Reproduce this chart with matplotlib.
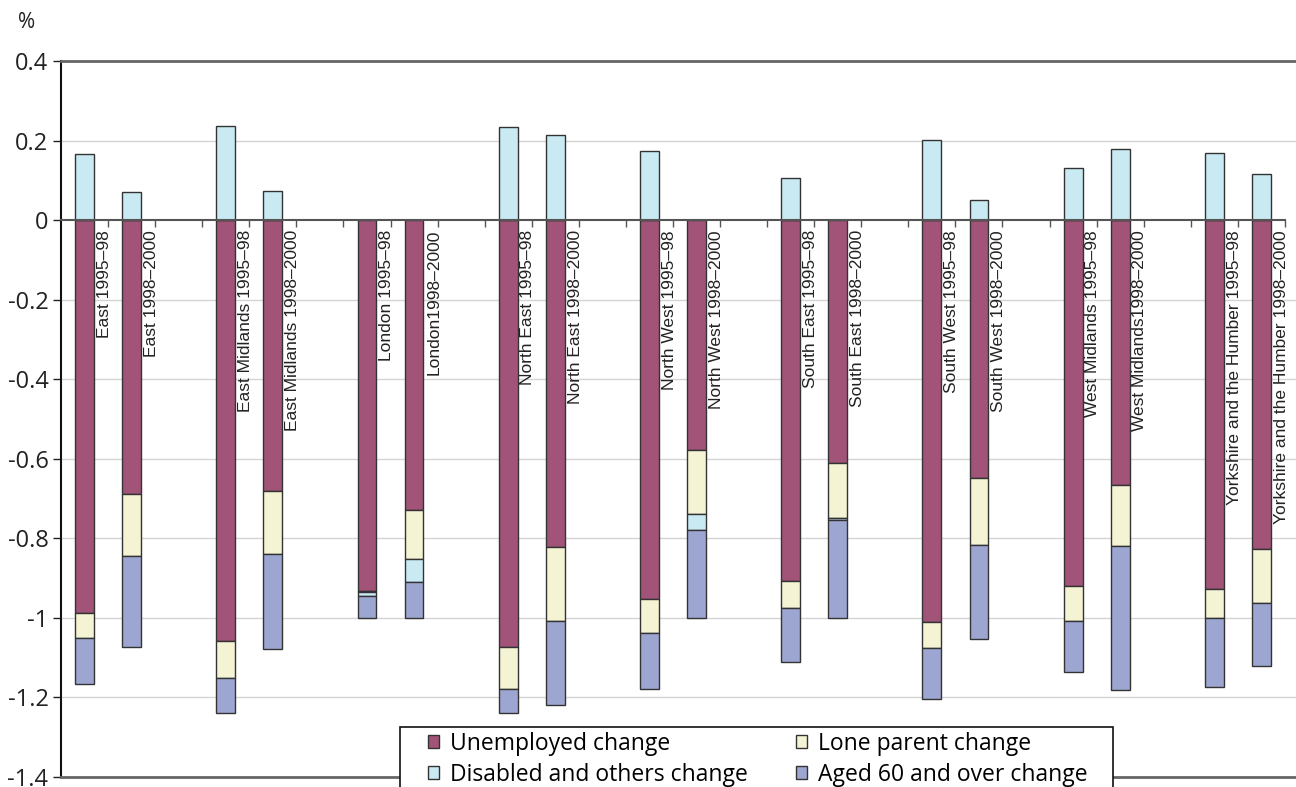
import numpy as np
import matplotlib
matplotlib.use("Agg")
from matplotlib import pyplot as plt
from matplotlib.patches import Patch, Rectangle

# regional change in claimant shares, two periods per region
labels = ["East 1995\u201398", "East 1998\u20132000",
          "East Midlands 1995\u201398", "East Midlands 1998\u20132000",
          "London 1995\u201398", "London1998\u20132000",
          "North East 1995\u201398", "North East 1998\u20132000",
          "North West 1995\u201398", "North West 1998\u20132000",
          "South East 1995\u201398", "South East 1998\u20132000",
          "South West 1995\u201398", "South West 1998\u20132000",
          "West Midlands 1995\u201398", "West Midlands1998\u20132000",
          "Yorkshire and the Humber 1995\u201398", "Yorkshire and the Humber 1998\u20132000"]

unemployed = [-0.987, -0.689, -1.058, -0.680, -0.932, -0.730, -1.073, -0.823, -0.953,
              -0.577, -0.907, -0.610, -1.011, -0.648, -0.920, -0.667, -0.928, -0.828]
lone_parent = [-0.063, -0.156, -0.092, -0.160, -0.004, -0.123, -0.106, -0.185, -0.085,
               -0.163, -0.067, -0.139, -0.064, -0.170, -0.088, -0.152, -0.073, -0.134]
disabled = [0.165, 0.070, 0.236, 0.074, -0.010, -0.056, 0.235, 0.215, 0.174,
            -0.038, 0.106, -0.006, 0.201, 0.050, 0.131, 0.179, 0.169, 0.117]
aged60 = [-0.117, -0.228, -0.089, -0.238, -0.054, -0.091, -0.060, -0.210, -0.141,
          -0.222, -0.137, -0.245, -0.130, -0.236, -0.127, -0.363, -0.172, -0.158]

c_unemp = "#a25478"
c_lone = "#f4f3d4"
c_dis = "#c9e9f3"
c_aged = "#9ca6d1"
edge = "#333333"

plt.rcParams['font.family'] = ['Open Sans', 'DejaVu Sans']

un = np.array(unemployed)
lp = np.array(lone_parent)
ds = np.array(disabled)
ag = np.array(aged60)

# two bars per region, then an empty slot
pos = np.array([3 * (i // 2) + (i % 2) for i in range(len(labels))])

W, H = 1296, 787
fig = plt.figure(figsize=(W / 100, H / 100), dpi=100)
ax = fig.add_axes([61 / W, 10 / H, 1271 / W, 716 / H])

w = 0.4
kw = dict(width=w, edgecolor=edge, linewidth=1.0, zorder=3)
ax.bar(pos, un, bottom=0, color=c_unemp, **kw)
ax.bar(pos, lp, bottom=un, color=c_lone, **kw)
dis_bottom = np.where(ds > 0, 0, un + lp)
ax.bar(pos, ds, bottom=dis_bottom, color=c_dis, **kw)
ax.bar(pos, ag, bottom=un + lp + np.minimum(ds, 0), color=c_aged, **kw)

ax.set_xlim(-0.5, 26.5)
ax.set_ylim(-1.4, 0.4)

yt = [0.4, 0.2, 0, -0.2, -0.4, -0.6, -0.8, -1, -1.2, -1.4]
ax.set_yticks(yt)
ax.set_yticklabels(["0.4", "0.2", "0", "-0.2", "-0.4", "-0.6", "-0.8", "-1", "-1.2", "-1.4"],
                   fontsize=17, color="#222222")
ax.tick_params(axis='y', direction='out', length=6, width=1, color="#222222", pad=3)

# zero line carries the category ticks
ax.spines['bottom'].set_position(('data', 0))
ax.spines['bottom'].set_bounds(-0.5, 25.5)
ax.spines['bottom'].set_color("#555555")
ax.spines['bottom'].set_linewidth(1.5)
ax.spines['bottom'].set_zorder(4)
ax.set_xticks(np.arange(0.5, 26, 1))
ax.set_xticklabels([])
ax.tick_params(axis='x', direction='out', length=5, width=1, color="#555555")

ax.spines['top'].set_color("#666666")
ax.spines['top'].set_linewidth(2)
ax.spines['right'].set_visible(False)
ax.spines['left'].set_color("#111111")
ax.spines['left'].set_linewidth(1.5)
ax.axhline(-1.4, color="#666666", linewidth=2, zorder=4, clip_on=False)

for g in [0.2, -0.2, -0.4, -0.6, -0.8, -1.0, -1.2]:
    ax.axhline(g, color="#d4d4d4", linewidth=1, zorder=1)

for p, lab in zip(pos, labels):
    ax.text(p + 0.42, -0.025, lab, rotation=90, ha='center', va='top',
            fontsize=12.5, color="#222222",
            family=['Liberation Sans Narrow', 'Liberation Sans', 'DejaVu Sans'], zorder=5)

fig.text(27 / W, 1 - 22 / H, "%", fontsize=15, ha='center', va='center', color="#222222")

# white legend box sitting over the bottom line
box = Rectangle((400 / W, -0.02), 713 / W, (H - 727) / H + 0.02, transform=fig.transFigure,
                facecolor="white", edgecolor="#111111", linewidth=1.2, zorder=9, clip_on=False)
ax.add_patch(box)

handles = [Patch(facecolor=c_unemp, edgecolor=edge, label="Unemployed change"),
           Patch(facecolor=c_dis, edgecolor=edge, label="Disabled and others change"),
           Patch(facecolor=c_lone, edgecolor=edge, label="Lone parent change"),
           Patch(facecolor=c_aged, edgecolor=edge, label="Aged 60 and over change")]
leg = ax.legend(handles=handles, ncol=2, loc='upper left',
                bbox_to_anchor=(428 / W, 1 - 732 / H), bbox_transform=fig.transFigure,
                fontsize=16.5, frameon=False,
                handlelength=0.5, handleheight=0.5, handletextpad=0.45, columnspacing=2.1,
                labelspacing=0.3, borderpad=0, borderaxespad=0)
leg.set_zorder(10)

fig.savefig("out.png", dpi=100)
